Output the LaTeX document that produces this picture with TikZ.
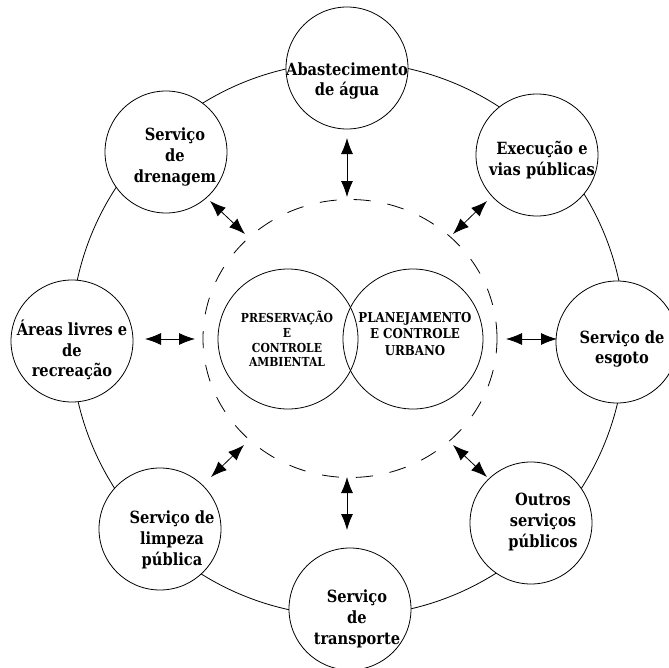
\documentclass[tikz,border=0pt]{standalone}
\usepackage{fontspec}
\usetikzlibrary{arrows.meta}
\newfontfamily\lblfont{DejaVu Serif}[FakeStretch=0.87]
\begin{document}
\begin{tikzpicture}[x=0.75pt,y=-0.75pt,
  ring/.style={line width=0.6pt},
  sat/.style={circle,draw,line width=0.6pt,fill=white,minimum size=91.5pt,inner sep=0pt},
  core/.style={circle,draw,line width=0.6pt,minimum size=105pt,inner sep=0pt},
  lbl/.style={align=center,inner sep=0pt,font=\lblfont\bfseries\fontsize{12.6pt}{15.6pt}\selectfont},
  small/.style={align=center,inner sep=0pt,font=\lblfont\bfseries\fontsize{9.3pt}{10.9pt}\selectfont},
  mid/.style={align=center,inner sep=0pt,font=\lblfont\bfseries\fontsize{10.2pt}{12.4pt}\selectfont},
  link/.style={line width=0.6pt,{Latex[length=12pt,width=9pt]}-{Latex[length=12pt,width=9pt]}}]
\useasboundingbox (0,0) rectangle (669,668);

% outer ring joining the services
\draw[ring] (348,339) circle [radius=207.75pt];
% dashed boundary around the core
\draw[ring,dash pattern=on 12.75pt off 12.75pt] (350,338.5) ellipse [x radius=110.25pt, y radius=104.25pt];

% core circles
\node[core] (amb) at (288,339) {};
\node[core] (urb) at (413,339) {};
\node[small] (ambtxt) at (287,339) {PRESERVAÇÃO\\E\\CONTROLE\\AMBIENTAL};
\node[mid] (urbtxt) at (415,334) {PLANEJAMENTO\\E CONTROLE\\URBANO};

% service circles
\node[sat] (agua) at (347,68) {};
\node[sat] (vias) at (537,155) {};
\node[sat] (esg)  at (617,342) {};
\node[sat] (out)  at (531,523) {};
\node[sat] (trans) at (350,609) {};
\node[sat] (limp) at (160,529) {};
\node[sat] (area) at (72,341) {};
\node[sat] (dren) at (166,152) {};

% service labels
\node[lbl] (aguatxt) at (347,81) {Abastecimento\\de água};
\node[lbl] (viastxt) at (542,160) {Execução e\\vias públicas};
\node[lbl] (esgtxt) at (622,349) {Serviço de\\esgoto};
\node[lbl] (outtxt) at (543,522) {Outros\\serviços\\públicos};
\node[lbl] (transtxt) at (357,619) {Serviço\\de\\transporte};
\node[lbl] (limptxt) at (172,540) {Serviço de\\limpeza\\pública};
\node[lbl] (areatxt) at (72,350) {Áreas livres e\\de\\recreação};
\node[lbl] (drentxt) at (175,157) {Serviço\\de\\drenagem};

% arrow end points
\coordinate (a1) at (347,138); \coordinate (a2) at (347,197);
\coordinate (b1) at (487,201); \coordinate (b2) at (453,234);
\coordinate (c1) at (557,339); \coordinate (c2) at (506,339);
\coordinate (d1) at (487,477); \coordinate (d2) at (453,445);
\coordinate (e1) at (347,530); \coordinate (e2) at (347,477);
\coordinate (f1) at (211,477); \coordinate (f2) at (244,445);
\coordinate (g1) at (145,339); \coordinate (g2) at (195,339);
\coordinate (h1) at (210,201); \coordinate (h2) at (245,234);

% two-way links between the services and the core
\draw[link] (a1) -- (a2);
\draw[link] (b1) -- (b2);
\draw[link] (c1) -- (c2);
\draw[link] (d1) -- (d2);
\draw[link] (e1) -- (e2);
\draw[link] (f1) -- (f2);
\draw[link] (g1) -- (g2);
\draw[link] (h1) -- (h2);
\end{tikzpicture}
\end{document}
